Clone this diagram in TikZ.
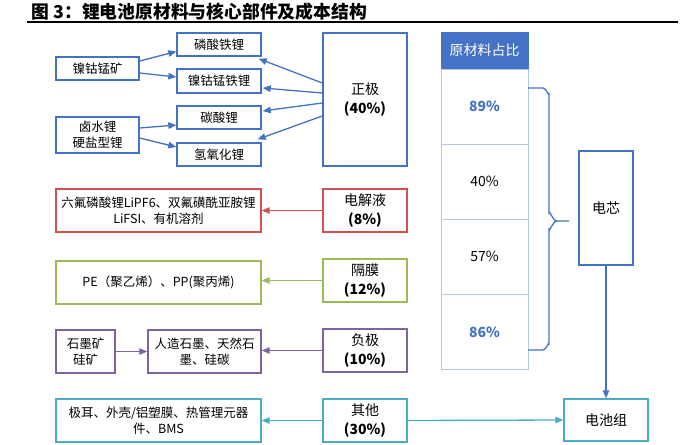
\documentclass[tikz,border=0pt]{standalone}
\usepackage{fontspec}
\setmainfont{Noto Sans CJK SC}
\usetikzlibrary{arrows.meta}
\definecolor{cblue}{HTML}{4472C4}
\definecolor{cred}{HTML}{D25050}
\definecolor{cgreen}{HTML}{9BBB59}
\definecolor{cpurple}{HTML}{8064A2}
\definecolor{ccyan}{HTML}{4BACC6}
\definecolor{tline}{HTML}{B4C7E7}

\begin{document}
\begin{tikzpicture}[x=1pt, y=-1pt,
	box/.style={draw=#1, line width=1.4pt, align=center, inner sep=0pt, font=\fontsize{12.5}{15.5}\selectfont},
	part/.style={box=#1, minimum width=84pt, minimum height=43pt, font=\fontsize{14}{19}\selectfont},
	link/.style={draw=#1, line width=1.3pt, -{Triangle[length=8pt,width=6.5pt]}},
	cellrow/.style={draw=tline, line width=0.8pt, minimum width=87pt, minimum height=75pt, inner sep=0pt, font=\fontsize{14}{17}\selectfont}]
	\useasboundingbox (0,0) rectangle (700,444);
	\node[anchor=west, font=\bfseries\fontsize{17.8}{20}\selectfont] (title) at (28,12) {图 3：锂电池原材料与核心部件及成本结构};
	\draw[line width=1.5pt] (27,22) -- (678,22);
	% cathode
	\node[box=cblue, minimum width=84pt, minimum height=23pt] (lfp) at (219,44.5) {磷酸铁锂};
	\node[box=cblue, minimum width=84pt, minimum height=24pt] (ncm) at (219,81) {镍钴锰铁锂};
	\node[box=cblue, minimum width=84pt, minimum height=23pt] (lico) at (219,117.5) {碳酸锂};
	\node[box=cblue, minimum width=84pt, minimum height=23pt] (lioh) at (219,154.5) {氢氧化锂};
	\node[box=cblue, minimum width=83pt, minimum height=23pt] (ore) at (97.5,68.5) {镍钴锰矿};
	\node[box=cblue, minimum width=83pt, minimum height=36pt] (brine) at (97.5,135) {卤水锂\\硬盐型锂};
	\node[part=cblue, minimum height=133pt] (cathode) at (365,99.5) {正极\\\textbf{(40\%)}};
	% other parts
	\node[part=cred] (elec) at (365,210.5) {电解液\\\textbf{(8\%)}};
	\node[box=cred, minimum width=205pt, minimum height=43pt] (elecm) at (158.5,210.5) {六氟磷酸锂LiPF6、双氟磺酰亚胺锂\\LiFSI、有机溶剂};
	\node[part=cgreen] (sep) at (365,280.5) {隔膜\\\textbf{(12\%)}};
	\node[box=cgreen, minimum width=205pt, minimum height=43pt] (sepm) at (158.5,282.5) {PE（聚乙烯）、PP(聚丙烯)};
	\node[part=cpurple] (anode) at (365,350.5) {负极\\\textbf{(10\%)}};
	\node[box=cpurple, minimum width=59pt, minimum height=43pt] (graph) at (85.5,351.5) {石墨矿\\硅矿};
	\node[box=cpurple, minimum width=113pt, minimum height=43pt] (anodem) at (204.5,351.5) {人造石墨、天然石\\墨、硅碳};
	\node[part=ccyan] (other) at (365,420.5) {其他\\\textbf{(30\%)}};
	\node[box=ccyan, minimum width=205pt, minimum height=43pt] (otherm) at (158.5,420.5) {极耳、外壳/铝塑膜、热管理元器\\件、BMS};
	% share table
	\node[cellrow, draw=cblue, fill=cblue, text=white, minimum height=37pt] (head) at (484.5,50.5) {原材料占比};
	\node[cellrow, text=cblue, font=\bfseries\fontsize{14}{17}\selectfont] (r1) at (484.5,106.5) {89\%};
	\node[cellrow] (r2) at (484.5,181.5) {40\%};
	\node[cellrow] (r3) at (484.5,256.5) {57\%};
	\node[cellrow, text=cblue, font=\bfseries\fontsize{14}{17}\selectfont] (r4) at (484.5,332) {86\%};
	\node[box=cblue, minimum width=54pt, minimum height=114pt, font=\fontsize{14}{17}\selectfont] (cell) at (606,208) {电芯};
	\node[box=ccyan, minimum width=84pt, minimum height=42pt, font=\fontsize{14}{17}\selectfont] (pack) at (606,420) {电池组};
	% brace
	\coordinate (btop) at (528,88);
	\coordinate (bbot) at (528,350);
	\coordinate (btip) at (569,221);
	\draw[cblue, line width=1.3pt] (btop) -- (543,88) to[out=0,in=-90] (549,94) -- (549,213)
		to[out=90,in=180] (557,221) -- (btip);
	\draw[cblue, line width=1.3pt] (bbot) -- (543,350) to[out=0,in=90] (549,344) -- (549,229)
		to[out=-90,in=180] (557,221);
	% arrows
	\draw[link=cblue] ([yshift=7.5pt]ore.east) -- ([yshift=-7pt]lfp.west);
	\draw[link=cblue] ([yshift=-4.5pt]ore.east) -- ([yshift=4pt]ncm.west);
	\draw[link=cblue] ([yshift=7pt]brine.east) -- ([yshift=-7.5pt]lico.west);
	\draw[link=cblue] ([yshift=-3pt]brine.east) -- ([yshift=7.5pt]lioh.west);
	\draw[link=cblue] ([yshift=16.5pt]cathode.west) -- ([xshift=-3pt,yshift=-2pt]lfp.south east);
	\draw[link=cblue] ([yshift=6.5pt]cathode.west) -- ([xshift=1pt,yshift=-7pt]ncm.east);
	\draw[link=cblue] ([yshift=-3.5pt]cathode.west) -- ([xshift=1pt,yshift=6.5pt]lico.east);
	\draw[link=cblue] ([yshift=-16.5pt]cathode.west) -- ([xshift=-4pt,yshift=3pt]lioh.north east);
	\draw[link=cred] (elec.west) -- (elecm.east);
	\draw[link=cgreen] (sep.west) -- (sep.west -| sepm.east);
	\draw[link=cpurple] (anode.west) -- (anode.west -| anodem.east);
	\draw[link=cpurple] (graph.east) -- (anodem.west);
	\draw[link=ccyan] (other.west) -- (otherm.east);
	\draw[link=ccyan] (other.east) -- (pack.west);
	\draw[link=cblue] (cell.south) -- (pack.north);
\end{tikzpicture}
\end{document}
